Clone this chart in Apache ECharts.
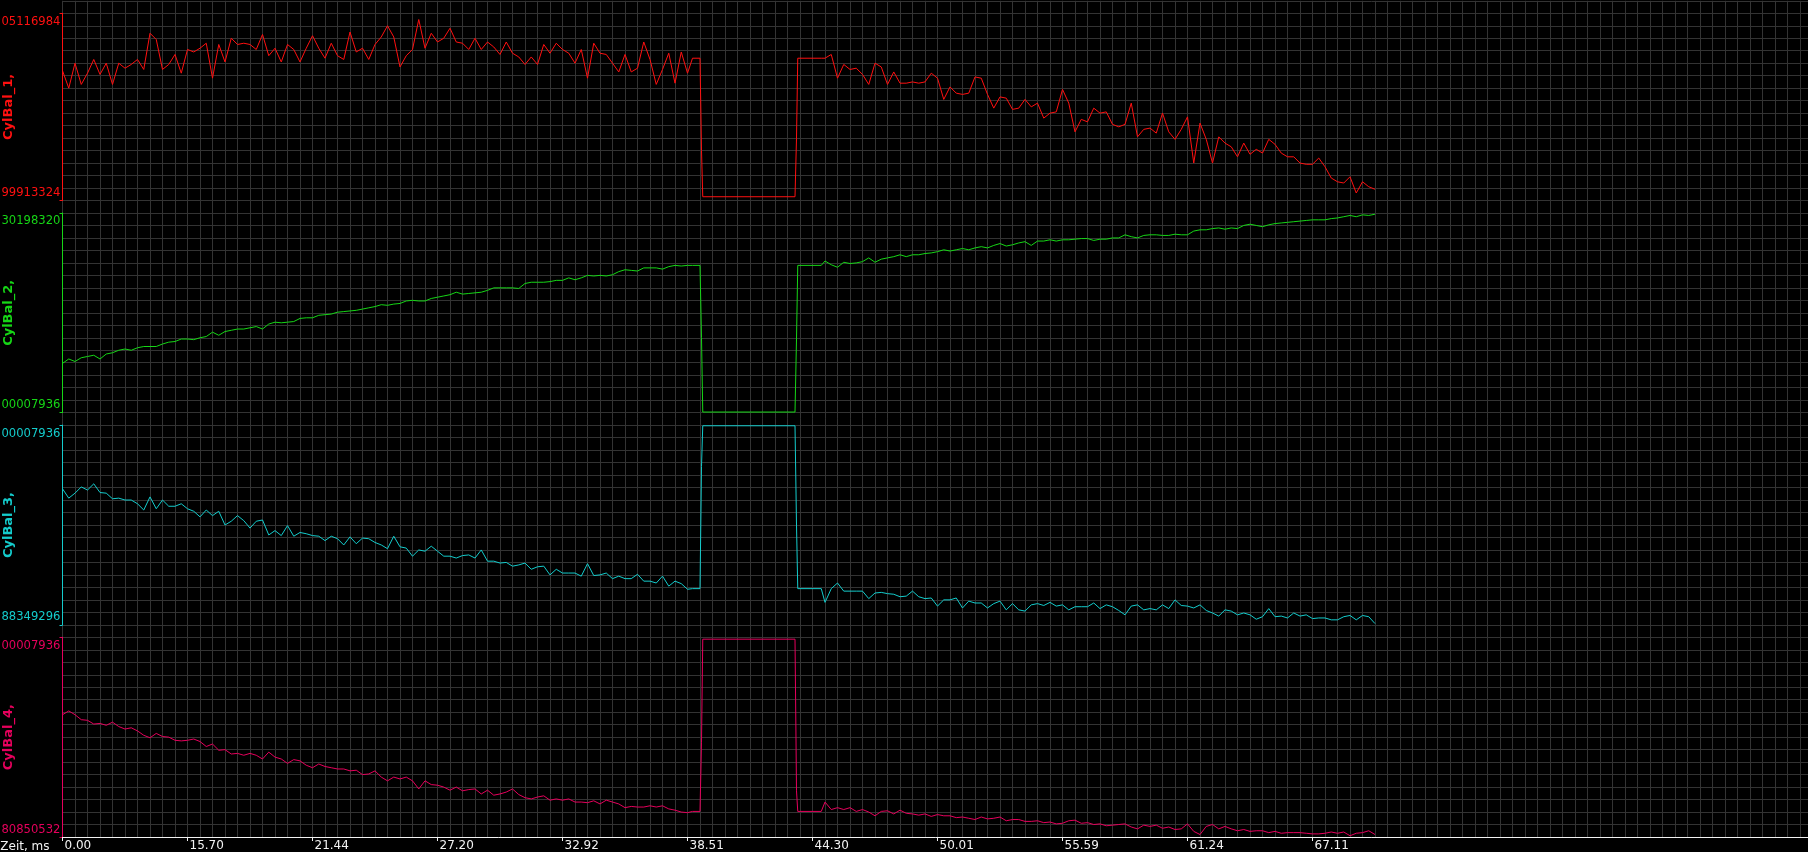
<!DOCTYPE html>
<html>
<head>
<meta charset="utf-8">
<title>CylBal</title>
<script src="https://cdn.jsdelivr.net/npm/echarts@6/dist/echarts.min.js"></script>
<style>
  html, body { margin: 0; padding: 0; background: #000; }
  #chart { width: 1808px; height: 852px; }
</style>
</head>
<body>
<div id="chart"></div>
<script>
// x is counted in grid divisions (one division = one grid cell), samples every half division
const SAMPLE_STEP = 0.5;
const PRE_START = 0;
const POST_START = 61;

// time labels shown under the bottom axis, every 10 divisions
const xTickPositions = [0, 10, 20, 30, 40, 50, 60, 70, 80, 90, 100];
const xTickLabels = ['0.00', '15.70', '21.44', '27.20', '32.92', '38.51', '44.30', '50.01', '55.59', '61.24', '67.11'];

const channelNames = ['CylBal_1,', 'CylBal_2,', 'CylBal_3,', 'CylBal_4,'];
const channelColors = ['#ff1010', '#16d616', '#14cccc', '#e6005c'];
const rangeTopLabels = ['05116984', '30198320', '00007936', '00007936'];
const rangeBottomLabels = ['99913324', '00007936', '88349296', '80850532'];
const rangeDivisions = [15, 16, 16, 16];

// the cut-out around 39-44 ms: hold, step, gap, step, hold
const gapAt = [50.4, 51.0, 51.12, 51.22, 58.6, 58.72, 58.82, 60.7];

const cyl1Pre = [
  10.4, 9.0, 11.0, 9.3, 10.2, 11.3, 10.1, 11.0, 9.3, 11.0,
  10.6, 10.9, 11.3, 10.5, 13.4, 12.9, 10.5, 10.9, 11.7, 10.2,
  12.1, 11.9, 12.2, 12.6, 9.8, 12.5, 11.1, 13.0, 12.5, 12.6,
  12.5, 12.1, 13.3, 11.6, 12.2, 11.1, 12.5, 12.1, 11.1, 12.2,
  13.2, 12.2, 11.4, 12.6, 11.6, 11.3, 13.5, 11.9, 12.2, 11.3,
  12.5, 13.1, 14.0, 13.1, 10.7, 11.6, 12.1, 14.5, 12.2, 13.4,
  12.7, 13.0, 13.8, 12.7, 12.6, 12.1, 13.0, 12.1, 12.7, 12.3,
  11.7, 12.7, 11.8, 11.5, 10.9, 11.5, 10.9, 12.5, 11.8, 12.6,
  12.1, 11.8, 11.0, 12.1, 9.8, 12.6, 11.8, 11.7, 11.0, 10.3,
  11.7, 10.3, 10.6, 12.7, 11.3, 9.3, 10.5, 11.8, 9.4, 11.9,
  10.2
];
const cyl1Gap = [11.4, 11.4, 4.0, 0.3, 0.3, 5.0, 11.4, 11.4];
const cyl1Post = [
  11.4, 11.7, 9.8, 10.9, 10.5, 10.6, 10.1, 9.3, 11.0, 10.7,
  9.3, 10.3, 9.4, 9.4, 9.5, 9.4, 9.5, 10.2,
  9.8, 8.1, 9.1, 8.6, 8.5, 8.6, 9.9, 9.8, 8.5, 7.4,
  8.3, 8.2, 7.3, 7.4, 8.1, 7.5, 7.8, 6.6, 7.0, 7.1,
  8.9, 7.8, 5.5, 6.5, 6.3, 7.4, 7.0, 7.1, 6.1, 5.9,
  6.1, 7.8, 5.1, 5.7, 5.8, 5.4, 7.0, 5.5, 4.9, 5.7,
  6.7, 3.0, 6.2, 4.9, 3.0, 5.1, 4.6, 4.3, 3.5, 4.6,
  3.7, 4.1, 3.8, 4.9, 4.5, 3.8, 3.5, 3.5, 3.0, 2.9,
  2.9, 3.4, 2.7, 1.8, 1.5, 1.4, 1.9, 0.6, 1.5, 1.1,
  0.9
];

const cyl2Pre = [
  3.95, 4.3, 4.1, 4.4, 4.5, 4.6, 4.3, 4.7, 4.8, 5.0,
  5.1, 5.0, 5.2, 5.3, 5.3, 5.3, 5.5, 5.65, 5.7, 5.9,
  5.9, 5.85, 6.0, 6.1, 6.45, 6.2, 6.5, 6.6, 6.7, 6.7,
  6.8, 6.9, 6.7, 7.1, 7.25, 7.2, 7.25, 7.3, 7.55, 7.6,
  7.6, 7.8, 7.85, 7.9, 8.05, 8.1, 8.15, 8.2, 8.3, 8.4,
  8.5, 8.65, 8.6, 8.7, 8.75, 8.95, 9.0, 8.95, 8.95, 9.15,
  9.25, 9.35, 9.45, 9.65, 9.5, 9.55, 9.6, 9.65, 9.8, 10.0,
  10.0, 10.0, 10.0, 9.95, 10.35, 10.45, 10.45, 10.45, 10.5, 10.6,
  10.6, 10.8, 10.65, 10.8, 11.0, 10.95, 11.0, 10.95, 11.05, 11.3,
  11.45, 11.4, 11.35, 11.6, 11.6, 11.6, 11.5, 11.7, 11.8, 11.75,
  11.8
];
const cyl2Gap = [11.8, 11.8, 6.0, 0.05, 0.05, 5.9, 11.8, 11.8];
const cyl2Post = [
  12.15, 11.85, 11.65, 12.05, 11.95, 12.0, 12.1, 12.4, 12.05, 12.3,
  12.4, 12.5, 12.65, 12.5, 12.65, 12.65, 12.75, 12.8, 12.9, 13.05,
  12.95, 13.05, 13.15, 13.05, 13.2, 13.3, 13.2, 13.4, 13.55, 13.35,
  13.45, 13.6, 13.7, 13.4, 13.75, 13.75, 13.85, 13.75, 13.85, 13.85,
  13.9, 13.95, 13.95, 13.8, 13.9, 13.9, 14.0, 14.0, 14.25, 14.1,
  14.0, 14.2, 14.25, 14.25, 14.2, 14.2, 14.3, 14.25, 14.25, 14.55,
  14.65, 14.65, 14.75, 14.8, 14.7, 14.8, 14.75, 15.0, 15.1, 15.0,
  14.9, 15.05, 15.15, 15.2, 15.25, 15.3, 15.35, 15.4, 15.45, 15.45,
  15.45, 15.55, 15.6, 15.7, 15.8, 15.7, 15.85, 15.8, 15.9
];

const cyl3Pre = [
  10.9, 10.15, 10.55, 11.05, 10.8, 11.3, 10.6, 10.55, 10.1, 10.15,
  10.0, 10.0, 9.7, 9.2, 10.25, 9.3, 10.0, 9.5, 9.5, 9.7,
  9.3, 9.1, 8.65, 9.2, 8.75, 9.1, 8.0, 8.3, 8.75, 8.35,
  7.75, 8.3, 8.4, 7.2, 7.55, 7.15, 7.95, 7.1, 7.4, 7.3,
  7.15, 7.1, 6.75, 7.1, 6.9, 6.4, 7.05, 6.5, 6.95, 6.9,
  6.6, 6.4, 6.1, 7.1, 6.25, 6.15, 5.5, 6.0, 5.9, 6.3,
  5.9, 5.5, 5.5, 5.35, 5.55, 5.6, 5.35, 6.0, 5.1, 5.1,
  4.95, 5.0, 4.7, 4.8, 4.95, 4.45, 4.65, 4.7, 4.0, 4.45,
  4.15, 4.15, 4.15, 3.9, 4.9, 3.95, 4.0, 4.15, 3.7, 3.9,
  3.7, 3.7, 4.05, 3.5, 3.5, 3.35, 3.9, 3.1, 3.5, 3.3,
  2.85
];
const cyl3Gap = [2.9, 2.9, 12.7, 15.95, 15.95, 8.0, 2.9, 2.9];
const cyl3Post = [
  1.8, 2.9, 3.35, 2.7, 2.7, 2.7, 2.7, 2.1, 2.55, 2.6,
  2.5, 2.45, 2.25, 2.3, 2.7, 2.25, 2.1, 2.15, 1.5, 2.0,
  2.0, 2.15, 1.35, 1.9, 1.75, 1.75, 1.35, 1.7, 1.9, 1.2,
  1.7, 1.2, 1.1, 1.6, 1.7, 1.55, 1.8, 1.5, 1.6, 1.2,
  1.45, 1.45, 1.45, 1.75, 1.3, 1.6, 1.45, 1.15, 0.8, 1.5,
  1.6, 1.2, 1.3, 1.2, 1.6, 1.3, 2.0, 1.55, 1.5, 1.35,
  1.6, 1.15, 0.95, 0.7, 1.2, 1.1, 0.8, 0.95, 0.8, 0.45,
  0.65, 1.3, 0.65, 0.7, 0.55, 0.95, 0.7, 0.8, 0.5, 0.55,
  0.55, 0.4, 0.4, 0.65, 0.75, 0.4, 0.75, 0.65, 0.1
];

const cyl4Pre = [
  9.8, 10.1, 9.8, 9.4, 9.35, 9.05, 9.1, 8.95, 9.2, 8.85,
  8.65, 8.75, 8.5, 8.15, 7.95, 8.3, 8.05, 8.0, 7.75, 7.7,
  7.75, 7.85, 7.65, 7.25, 7.45, 6.95, 7.0, 6.65, 6.7, 6.55,
  6.7, 6.55, 6.25, 6.8, 6.4, 6.25, 5.9, 6.2, 6.1, 5.75,
  5.55, 5.85, 5.65, 5.55, 5.45, 5.45, 5.3, 5.35, 5.0, 5.05,
  5.3, 4.8, 4.5, 4.8, 4.65, 4.8, 4.5, 3.85, 4.5, 4.2,
  4.15, 4.0, 3.75, 4.0, 3.7, 3.8, 3.85, 3.45, 3.75, 3.35,
  3.45, 3.6, 3.85, 3.4, 3.15, 3.05, 3.2, 3.3, 2.95, 3.05,
  2.95, 3.05, 2.8, 2.8, 2.75, 2.9, 2.65, 2.95, 2.8, 2.65,
  2.35, 2.45, 2.4, 2.4, 2.5, 2.4, 2.5, 2.25, 2.15, 2.0,
  1.95
];
const cyl4Gap = [2.05, 2.05, 7.6, 15.85, 15.85, 3.7, 2.05, 2.05];
const cyl4Post = [
  2.8, 2.2, 2.35, 2.2, 2.35, 2.05, 2.2, 2.0, 1.7, 2.05,
  2.1, 1.85, 2.15, 1.9, 1.85, 1.75, 1.85, 1.65, 1.8, 1.7,
  1.7, 1.55, 1.6, 1.5, 1.4, 1.6, 1.45, 1.5, 1.6, 1.3,
  1.4, 1.4, 1.25, 1.25, 1.3, 1.15, 1.2, 1.05, 1.1, 1.3,
  1.35, 1.1, 1.15, 1.0, 1.05, 0.9, 0.95, 1.0, 1.05, 0.8,
  0.65, 0.95, 0.85, 0.95, 0.7, 0.8, 0.6, 0.65, 1.05, 0.45,
  0.2, 0.85, 1.0, 0.65, 0.85, 0.65, 0.5, 0.6, 0.45, 0.5,
  0.5, 0.35, 0.45, 0.3, 0.35, 0.35, 0.35, 0.3, 0.25, 0.25,
  0.3, 0.4, 0.3, 0.4, 0.1, 0.3, 0.35, 0.5, 0.2
];

const channelPre = [cyl1Pre, cyl2Pre, cyl3Pre, cyl4Pre];
const channelGap = [cyl1Gap, cyl2Gap, cyl3Gap, cyl4Gap];
const channelPost = [cyl1Post, cyl2Post, cyl3Post, cyl4Post];

function buildTrace(pre, gap, post) {
  return [
    ...pre.map((v, i) => [PRE_START + i * SAMPLE_STEP, v]),
    ...gapAt.map((t, i) => [t, gap[i]]),
    ...post.map((v, i) => [POST_START + i * SAMPLE_STEP, v])
  ];
}

// layout of the screen
const FONT = 'DejaVu Sans, Verdana, sans-serif';
const PLOT_LEFT = 62.5;
const PLOT_TOP = 0.8;
const PLOT_BOTTOM = 837;
const ROWS = 67;
const CELL_W = 12.5;
const CELL_H = (PLOT_BOTTOM - PLOT_TOP) / ROWS;
const X_MAX = (1808 - PLOT_LEFT) / CELL_W;
const panelStartRow = [1, 17, 34, 51];

var myChart = echarts.init(document.getElementById('chart'), null, { renderer: 'canvas' });

const grids = [{
  left: PLOT_LEFT, right: 0, top: PLOT_TOP, height: PLOT_BOTTOM - PLOT_TOP,
  outerBoundsMode: 'none', containLabel: false
}];
const xAxes = [{
  gridIndex: 0, type: 'value', min: 0, max: X_MAX, interval: 1,
  axisLine: { show: false }, axisTick: { show: false }, axisLabel: { show: false },
  splitLine: { show: true, lineStyle: { color: '#333333', width: 1 } }
}];
const yAxes = [{
  gridIndex: 0, type: 'value', min: 0, max: ROWS, interval: 1,
  axisLine: { show: false }, axisTick: { show: false }, axisLabel: { show: false },
  splitLine: { show: true, lineStyle: { color: '#333333', width: 1 } }
}];
const series = [];

channelNames.forEach((name, i) => {
  const color = channelColors[i];
  const max = rangeDivisions[i];
  const isLast = i === channelNames.length - 1;
  grids.push({
    left: PLOT_LEFT, right: 0,
    top: PLOT_TOP + panelStartRow[i] * CELL_H,
    height: max * CELL_H,
    outerBoundsMode: 'none', containLabel: false
  });
  xAxes.push(isLast ? {
    gridIndex: i + 1, type: 'value', min: 0, max: X_MAX,
    name: 'Zeit, ms', nameLocation: 'start', nameGap: 13, nameMoveOverlap: false,
    nameTextStyle: { color: '#f2f2f2', fontSize: 12, fontFamily: FONT, verticalAlign: 'top', align: 'right', padding: [4, 0, 0, 0] },
    axisLine: { show: true, lineStyle: { color: '#f2f2f2', width: 1 } },
    axisTick: { show: true, length: 4, customValues: xTickPositions, lineStyle: { color: '#f2f2f2' } },
    axisLabel: {
      show: true, customValues: xTickPositions, align: 'left', margin: 3,
      padding: [0, 0, 0, 2], color: '#f2f2f2', fontSize: 12, fontFamily: FONT,
      formatter: (v) => xTickLabels[xTickPositions.indexOf(v)] || ''
    },
    splitLine: { show: false }
  } : {
    gridIndex: i + 1, type: 'value', min: 0, max: X_MAX, show: false
  });
  yAxes.push({
    gridIndex: i + 1, type: 'value', min: 0, max: max,
    name: name, nameLocation: 'middle', nameRotate: 90, nameGap: 47, nameMoveOverlap: false,
    nameTextStyle: { color: color, fontWeight: 'bold', fontSize: 13, fontFamily: FONT },
    axisLine: { show: true, lineStyle: { color: color, width: 1 } },
    axisTick: { show: true, length: 3, customValues: [0, max], lineStyle: { color: color } },
    axisLabel: {
      show: true, customValues: [0, max], margin: 2,
      color: color, fontSize: 11.6, fontFamily: FONT,
      formatter: (v) => v === max ? '{t|' + rangeTopLabels[i] + '}' : '{b|' + rangeBottomLabels[i] + '}',
      rich: {
        t: { padding: [17, 0, 0, 0], color: color, fontSize: 11.6, fontFamily: FONT },
        b: { padding: [0, 0, 15, 0], color: color, fontSize: 11.6, fontFamily: FONT }
      }
    },
    splitLine: { show: false }
  });
  series.push({
    name: name, type: 'line', xAxisIndex: i + 1, yAxisIndex: i + 1,
    showSymbol: false, symbol: 'none', silent: true,
    lineStyle: { color: color, width: 1 },
    data: buildTrace(channelPre[i], channelGap[i], channelPost[i])
  });
});

var option = {
  backgroundColor: '#000',
  animation: false,
  grid: grids,
  xAxis: xAxes,
  yAxis: yAxes,
  series: series
};

option && myChart.setOption(option);
</script>
</body>
</html>
